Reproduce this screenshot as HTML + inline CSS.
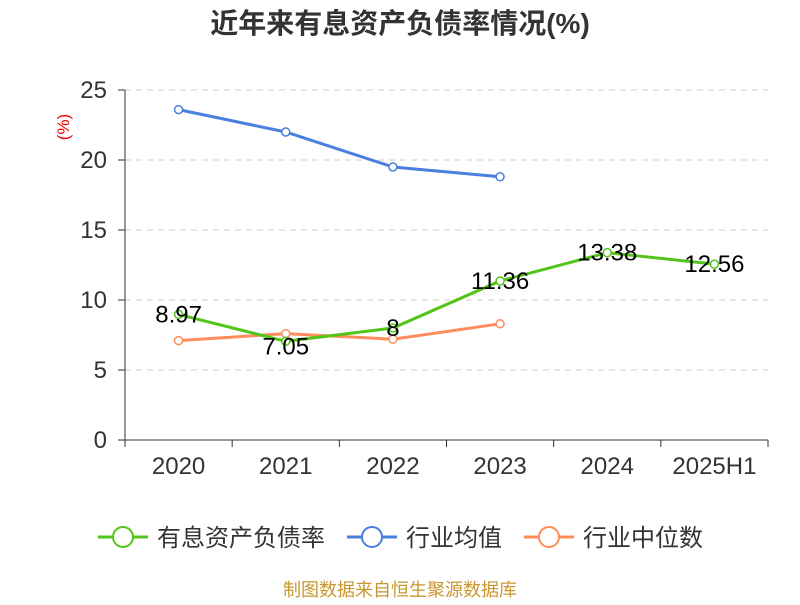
<!DOCTYPE html>
<html><head><meta charset="utf-8"><style>
body{margin:0;background:#fff;}
svg text{font-family:"Liberation Sans","Noto Sans CJK SC",sans-serif;}
</style></head><body>
<svg id="c" width="800" height="600">
<text x="400" y="33" text-anchor="middle" font-size="28" font-weight="bold" fill="#333">近年来有息资产负债率情况(%)</text>
<text x="0" y="0" transform="translate(69,127) rotate(-90)" text-anchor="middle" font-size="17" fill="#e00">(%)</text>
<g id="grid"></g><g id="axes"></g><g id="series"></g>
<g>
<g><line x1="98" y1="537" x2="148" y2="537" stroke="#52c41a" stroke-width="3"/><circle cx="123" cy="537" r="10" fill="#fff" stroke="#52c41a" stroke-width="2"/><text x="157" y="546" font-size="24" fill="#333">有息资产负债率</text></g>
<g><line x1="347" y1="537" x2="397" y2="537" stroke="#4a7fe0" stroke-width="3"/><circle cx="372" cy="537" r="10" fill="#fff" stroke="#4a7fe0" stroke-width="2"/><text x="406" y="546" font-size="24" fill="#333">行业均值</text></g>
<g><line x1="524" y1="537" x2="574" y2="537" stroke="#ff8c5a" stroke-width="3"/><circle cx="549" cy="537" r="10" fill="#fff" stroke="#ff8c5a" stroke-width="2"/><text x="583" y="546" font-size="24" fill="#333">行业中位数</text></g>
</g>
<text x="400" y="596" text-anchor="middle" font-size="18" fill="#c8962e">制图数据来自恒生聚源数据库</text>
</svg>
<script>
const categories=["2020","2021","2022","2023","2024","2025H1"];
const debtRatio=[8.97,7.05,8,11.36,13.38,12.56];
const industryAvg=[23.6,22.0,19.5,18.8];
const industryMedian=[7.1,7.6,7.2,8.3];
const yTicks=[0,5,10,15,20,25];
const NS="http://www.w3.org/2000/svg";
const x0=125,x1=768,yb=440,yt=90,ymax=25;
const bw=(x1-x0)/categories.length;
const X=i=>x0+bw*(i+0.5);
const Y=v=>yb-(v/ymax)*(yb-yt);
function mk(tag,attrs,parent){const e=document.createElementNS(NS,tag);for(const k in attrs)e.setAttribute(k,attrs[k]);document.getElementById(parent).appendChild(e);return e;}
yTicks.forEach(t=>{
 if(t>0){const g=mk("line",{x1:x0,x2:x1,y1:Y(t),y2:Y(t),stroke:"#ccc","stroke-dasharray":"6,5"},"grid");
 
 }
 const tk=mk("line",{x1:x0-7,x2:x0,y1:Y(t),y2:Y(t),stroke:"#333"},"axes");
 
 
 const l=mk("text",{x:x0-18,y:Y(t)+8,"text-anchor":"end","font-size":"24",fill:"#333"},"axes");l.textContent=t;
 
 
});
const ya=mk("line",{x1:x0,x2:x0,y1:yt,y2:yb,stroke:"#333"},"axes");


const xa=mk("line",{x1:x0,x2:x1,y1:yb,y2:yb,stroke:"#333"},"axes");


for(let i=0;i<=categories.length;i++){const t=mk("line",{x1:x0+bw*i,x2:x0+bw*i,y1:yb,y2:yb+7,stroke:"#333"},"axes");
 
 }
categories.forEach((c,i)=>{const l=mk("text",{x:X(i),y:474,"text-anchor":"middle","font-size":"24",fill:"#333"},"axes");l.textContent=c;
 
 });
function series(vals,color,name,labels){
 const p=mk("polyline",{points:vals.map((v,i)=>X(i)+","+Y(v)).join(" "),fill:"none",stroke:color,"stroke-width":"3"},"series");
 
 
 vals.forEach((v,i)=>{const c=mk("circle",{cx:X(i),cy:Y(v),r:4,fill:"#fff",stroke:color,"stroke-width":"1.5"},"series");
  
  
  if(labels){const t=mk("text",{x:X(i),y:Y(v)+(i===1?13:8),"text-anchor":"middle","font-size":"24",fill:"#000"},"series");t.textContent=v;
  
  }
 });
}
series(industryAvg,"#4a7fe0","industry-avg",false);
series(industryMedian,"#ff8c5a","industry-median",false);
series(debtRatio,"#52c41a","debt-ratio",true);
</script>
</body></html>
